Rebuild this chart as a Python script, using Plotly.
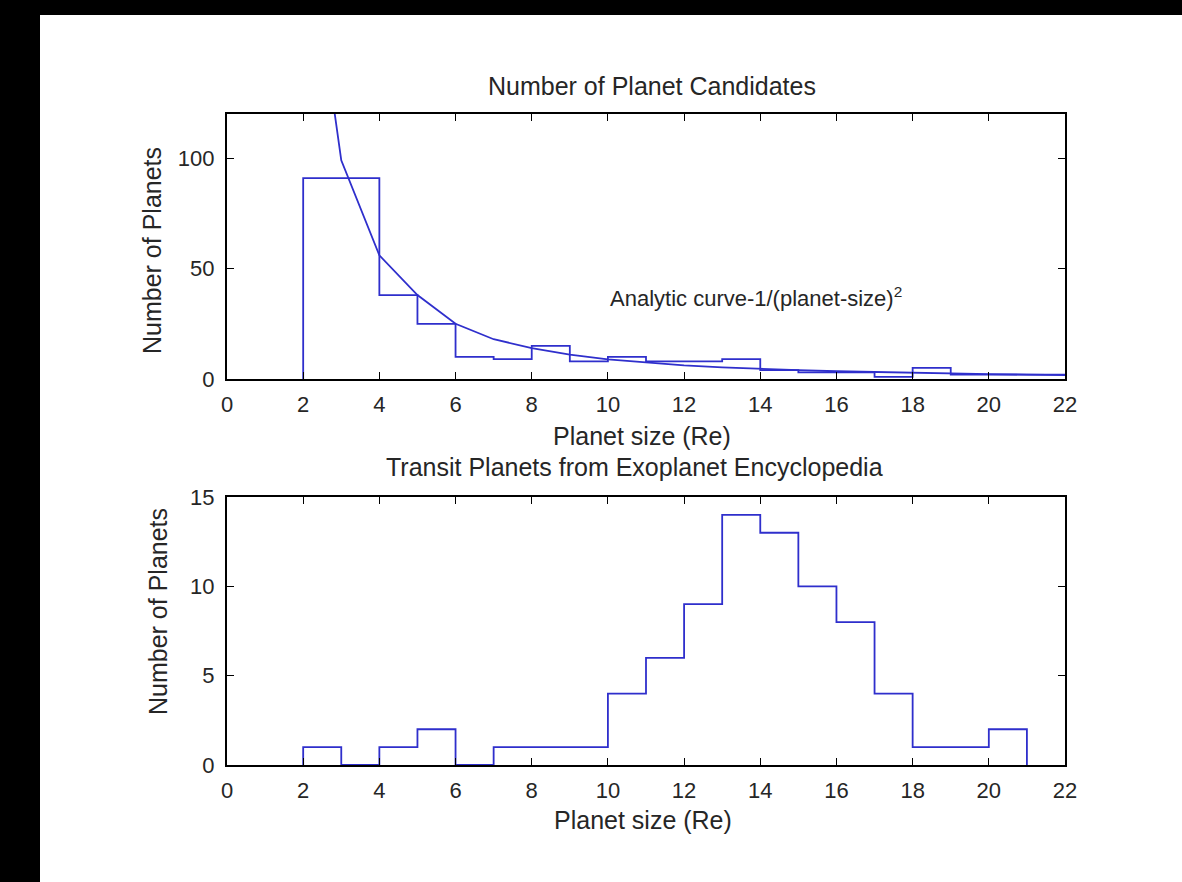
import plotly.graph_objects as go

# ---- data ----
top_edges = [2, 4, 5, 6, 7, 8, 9, 10, 11, 12, 13, 14, 15, 16, 17, 18, 19, 20, 21, 22]
top_counts = [91, 38, 25, 10, 9, 15, 8, 10, 8, 8, 9, 4, 3, 3, 1, 5, 2, 2, 2]

curve_x = [2, 3, 4, 5, 6, 7, 8, 9, 10, 11, 12, 13, 14, 15, 16, 17, 18, 19, 20, 21, 22]
curve_y = [222, 99, 56, 38, 25, 18, 14, 11, 8.9, 7.4, 6.2, 5.3, 4.5, 4.0, 3.5, 3.1, 2.7, 2.5, 2.2, 2.0, 1.8]

bot_edges = [2, 3, 4, 5, 6, 7, 8, 9, 10, 11, 12, 13, 14, 15, 16, 17, 18, 19, 20, 21]
bot_counts = [1, 0, 1, 2, 0, 1, 1, 1, 4, 6, 9, 14, 13, 10, 8, 4, 1, 1, 2]

x_ticks = [0, 2, 4, 6, 8, 10, 12, 14, 16, 18, 20, 22]
top_yticks = [0, 50, 100]
bot_yticks = [0, 5, 10, 15]

BLUE = "#2f2fcc"
TXT = "#262626"
FONT = "Liberation Sans, Arial, sans-serif"
FS = 22
FS_T = 25

W, H = 1182, 882
L, R, T, B = 227, 1182 - 1065, 114, 882 - 765
PH = H - T - B


def fy(py):
    return (765 - py) / PH


def fx(px):
    return (px - L) / (1065 - L)


def stairs(edges, counts, close):
    xs = [edges[0]] + list(edges[:len(counts)])
    ys = [0] + list(counts)
    xs.append(edges[len(counts)])
    ys.append(0 if close else counts[-1])
    return xs, ys


fig = go.Figure()

tx, ty = stairs(top_edges, top_counts, close=False)
fig.add_trace(go.Scatter(x=tx, y=ty, mode="lines", line=dict(color=BLUE, width=1.8, shape="hv"),
                         xaxis="x", yaxis="y", showlegend=False))
fig.add_trace(go.Scatter(x=curve_x, y=curve_y, mode="lines", line=dict(color=BLUE, width=1.8),
                         xaxis="x", yaxis="y", showlegend=False))
bx, by = stairs(bot_edges, bot_counts, close=True)
fig.add_trace(go.Scatter(x=bx, y=by, mode="lines", line=dict(color=BLUE, width=1.8, shape="hv"),
                         xaxis="x2", yaxis="y2", showlegend=False))

axis_common = dict(showline=True, linecolor="black", linewidth=2.2, mirror="ticks",
                   ticks="inside", ticklen=7, tickwidth=1.3, tickcolor="black",
                   showgrid=False, zeroline=False, layer="above traces",
                   tickfont=dict(family=FONT, size=FS, color=TXT))

fig.update_layout(
    width=W, height=H,
    margin=dict(l=L, r=R, t=T, b=B),
    paper_bgcolor="black", plot_bgcolor="white",
    xaxis=dict(domain=[0, 1], anchor="y", range=[0, 22], tickvals=x_ticks, ticklabelstandoff=4, **axis_common),
    yaxis=dict(domain=[fy(379), 1], anchor="x", range=[0, 120], tickvals=top_yticks, ticklabelstandoff=6, **axis_common),
    xaxis2=dict(domain=[0, 1], anchor="y2", range=[0, 22], tickvals=x_ticks, ticklabelstandoff=4, **axis_common),
    yaxis2=dict(domain=[0, fy(497)], anchor="x2", range=[0, 15], tickvals=bot_yticks, ticklabelstandoff=6, **axis_common),
    showlegend=False,
)

# white figure area (black border on left and top)
fig.add_shape(type="rect", xref="paper", yref="paper", x0=fx(40), x1=fx(W), y0=fy(H), y1=fy(15),
              fillcolor="white", line=dict(width=0), layer="below")


def text(s, px, py, angle=0, size=FS_T):
    fig.add_annotation(text=s, xref="paper", yref="paper", x=fx(px), y=fy(py), showarrow=False,
                       xanchor="center", yanchor="middle", textangle=angle,
                       font=dict(family=FONT, size=size, color=TXT))


text("Number of Planet Candidates", 652, 86)
text("Planet size (Re)", 642, 436)
text("Number of Planets", 152, 251, angle=-90)
text("Transit Planets from Exoplanet Encyclopedia", 634, 467)
text("Planet size (Re)", 643, 820)
text("Number of Planets", 158, 612, angle=-90)

fig.add_annotation(text="Analytic curve-1/(planet-size)<sup>2</sup>", x=10, y=37, xref="x", yref="y",
                   showarrow=False, xanchor="left", yanchor="middle",
                   font=dict(family=FONT, size=FS, color=TXT))

fig.write_html("out.html")
